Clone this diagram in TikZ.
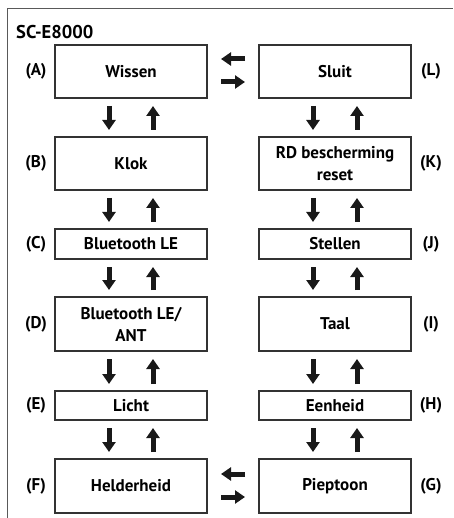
\documentclass[tikz,border=0pt]{standalone}
\usepackage{fontspec}
\setmainfont{PT Sans}
\usetikzlibrary{arrows.meta}
\begin{document}
\begin{tikzpicture}[x=1pt,y=-1pt,
  box/.style={draw=black!80,line width=1.1pt,minimum width=152pt,inner sep=0pt,outer sep=0pt,align=center,font=\fontsize{17}{22}\selectfont\bfseries},
  lab/.style={inner sep=0pt,font=\fontsize{17}{20}\selectfont\bfseries},
  arr/.style={line width=5pt,draw=black!90,-{Triangle[width=13pt,length=10pt]}},
  frame/.style={draw=black!65,line width=1pt}]
\useasboundingbox (0,0) rectangle (453,518);
\draw[frame] (7,518) -- (7,9) -- (453,9);
\node[lab,anchor=west,font=\fontsize{18.5}{20}\selectfont\bfseries] (title) at (16,32) {SC-E8000};
% left column
\node[box,minimum height=53pt] (A) at (131,71.5) {Wissen};
\node[box,minimum height=53pt] (B) at (131,163.5) {Klok};
\node[box,minimum height=30pt] (C) at (131,244) {Bluetooth LE};
\node[box,minimum height=54pt] (D) at (131,324) {Bluetooth LE/\\ANT};
\node[box,minimum height=29pt] (E) at (131,405.5) {Licht};
\node[box,minimum height=54pt] (F) at (131,486) {Helderheid};
% right column
\node[box,minimum height=53pt] (L) at (335,71.5) {Sluit};
\node[box,minimum height=53pt] (K) at (335,163.5) {RD bescherming\\reset};
\node[box,minimum height=30pt] (J) at (335,244) {Stellen};
\node[box,minimum height=54pt] (I) at (335,324) {Taal};
\node[box,minimum height=29pt] (H) at (335,405.5) {Eenheid};
\node[box,minimum height=54pt] (G) at (335,486) {Pieptoon};
% labels
\node[lab] (lA) at (36,71.5) {(A)};
\node[lab] (lB) at (36,163.5) {(B)};
\node[lab] (lC) at (36,244) {(C)};
\node[lab] (lD) at (36,324) {(D)};
\node[lab] (lE) at (36,405.5) {(E)};
\node[lab] (lF) at (36,486) {(F)};
\node[lab] (lL) at (431,71.5) {(L)};
\node[lab] (lK) at (431,163.5) {(K)};
\node[lab] (lJ) at (431,244) {(J)};
\node[lab] (lI) at (431,324) {(I)};
\node[lab] (lH) at (431,405.5) {(H)};
\node[lab] (lG) at (431,486) {(G)};
% vertical arrows
\foreach \a/\b in {A/B,B/C,C/D,D/E,E/F,L/K,K/J,J/I,I/H,H/G}{
  \draw[arr] ([xshift=-22pt,yshift=-8pt]\a.south) -- ([xshift=-22pt,yshift=7pt]\b.north);
  \draw[arr] ([xshift=22pt,yshift=7pt]\b.north) -- ([xshift=22pt,yshift=-8pt]\a.south);
}
% horizontal arrows
\draw[arr] ([xshift=-14pt,yshift=12.5pt]L.west) -- ([xshift=14pt,yshift=12.5pt]A.east);
\draw[arr] ([xshift=14pt,yshift=-10.5pt]A.east) -- ([xshift=-14pt,yshift=-10.5pt]L.west);
\draw[arr] ([xshift=-14pt,yshift=12pt]G.west) -- ([xshift=14pt,yshift=12pt]F.east);
\draw[arr] ([xshift=14pt,yshift=-11pt]F.east) -- ([xshift=-14pt,yshift=-11pt]G.west);
\end{tikzpicture}
\end{document}
